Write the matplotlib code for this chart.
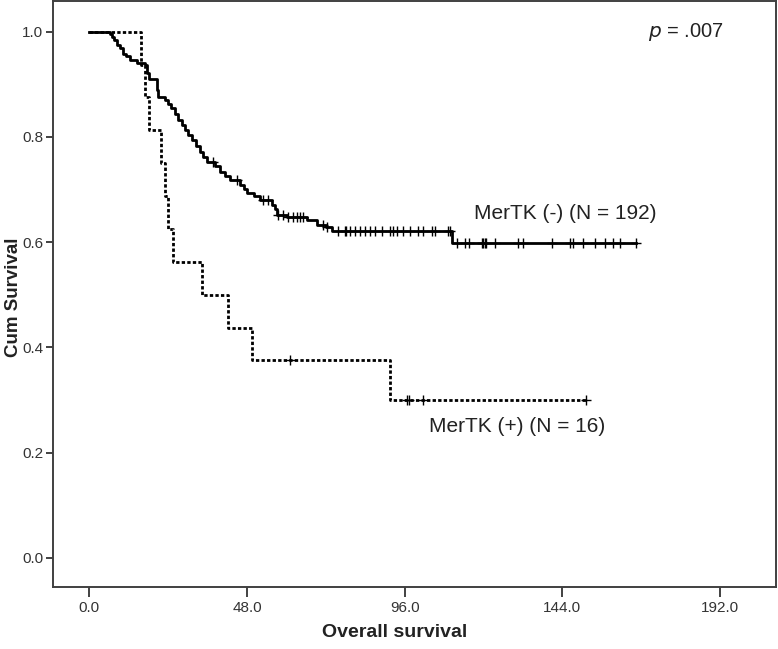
import numpy as np
import matplotlib
matplotlib.use('Agg')
import matplotlib.pyplot as plt

# Kaplan-Meier Schritte (Zeit in Monaten, kumuliertes Ueberleben)
neg_t = [0, 6.3, 7.0, 7.5, 8.3, 9.2, 10.4, 11.3, 12.4, 14.4, 17.0, 17.7, 18.2,
         20.5, 20.8, 23.0, 24.0, 24.8, 26.0, 27.1, 28.2, 29.1, 30.2, 31.2, 32.5,
         33.7, 34.6, 35.7, 38.3, 39.8, 41.2, 42.8, 45.9, 47.0, 47.9, 50.0, 52.0,
         55.5, 56.5, 57.0, 60.1, 66.2, 69.2, 72.0, 73.8, 110.3, 166.4]
neg_s = [1.0, 0.995, 0.990, 0.984, 0.974, 0.969, 0.958, 0.953, 0.947, 0.941,
         0.936, 0.922, 0.911, 0.890, 0.876, 0.870, 0.862, 0.854, 0.843, 0.832,
         0.822, 0.813, 0.803, 0.794, 0.783, 0.772, 0.762, 0.753, 0.745, 0.734,
         0.726, 0.718, 0.709, 0.700, 0.693, 0.687, 0.680, 0.671, 0.662, 0.652,
         0.647, 0.642, 0.633, 0.628, 0.622, 0.599, 0.599]
neg_cens = [37.8, 44.9, 53.0, 54.5, 57.5, 59.0, 60.5, 62.0, 63.1, 64.1, 65.0,
            71.2, 72.5, 75.8, 77.8, 78.3, 79.4, 80.9, 82.4, 83.9, 85.5, 87.0,
            89.0, 91.5, 92.5, 93.6, 95.6, 97.6, 100.2, 101.7, 104.2, 105.2,
            109.3, 109.8, 112.0, 114.4, 115.7, 119.4, 119.9, 120.4, 120.9,
            123.5, 130.6, 132.1, 140.8, 146.3, 147.3, 150.4, 153.9, 157.0,
            159.5, 161.6, 166.4]

pos_t = [0, 15.7, 17.0, 18.2, 21.8, 23.0, 24.0, 25.6, 34.2, 42.3, 49.6, 91.5, 151.2]
pos_s = [1.0, 0.9375, 0.875, 0.8125, 0.75, 0.6875, 0.625, 0.5625, 0.5,
         0.4375, 0.375, 0.30, 0.30]
pos_cens = [61.0, 96.6, 97.3, 101.7, 151.2]

x_ticks = [0, 48, 96, 144, 192]
y_ticks = [0.0, 0.2, 0.4, 0.6, 0.8, 1.0]


def step_value(t, s, x):
    idx = np.searchsorted(t, x, side='right') - 1
    return np.asarray(s)[idx]


plt.rcParams['font.family'] = ['Liberation Sans', 'DejaVu Sans']
fig = plt.figure(figsize=(7.78, 6.49), dpi=100)
ax = fig.add_axes([0.0681, 0.0955, 0.9287, 0.9022])

ax.plot(neg_t, neg_s, drawstyle='steps-post', color='black', lw=2.0)
ax.plot(pos_t, pos_s, drawstyle='steps-post', color='black', lw=2.0,
        linestyle=(0, (1.2, 0.8)))
ax.plot(neg_cens, step_value(neg_t, neg_s, neg_cens), '+', color='black',
        ms=7, mew=1.0)
ax.plot(pos_cens, step_value(pos_t, pos_s, pos_cens), '+', color='black',
        ms=7, mew=1.0)

ax.text(117, 0.655, 'MerTK (-) (N = 192)', fontsize=15, color='#222222',
        va='center')
ax.text(103.5, 0.25, 'MerTK (+) (N = 16)', fontsize=15, color='#222222',
        va='center')
ax.text(170, 1.0, r'$p$ = .007', fontsize=14.5, color='#222222', va='center')

ax.set_xlim(-11.05, 208.9)
ax.set_ylim(-0.0557, 1.0574)
ax.set_xticks(x_ticks)
ax.set_xticklabels(['%.1f' % v for v in x_ticks])
ax.set_yticks(y_ticks)
ax.set_yticklabels(['%.1f' % v for v in y_ticks])
ax.tick_params(axis='both', labelsize=11, colors='#333333', width=1.3)
ax.tick_params(axis='x', length=7, pad=3)
ax.tick_params(axis='y', length=5, pad=2)
for sp in ax.spines.values():
    sp.set_color('#404040')
    sp.set_linewidth(1.4)

ax.set_xlabel('Overall survival', fontsize=14, fontweight='bold',
              color='#222222')
ax.set_ylabel('Cum Survival', fontsize=13.5, fontweight='bold',
              color='#222222')
ax.xaxis.set_label_coords(0.4724, -0.064)
ax.yaxis.set_label_coords(-0.0435, 0.495)

fig.savefig('out.png', dpi=100)
